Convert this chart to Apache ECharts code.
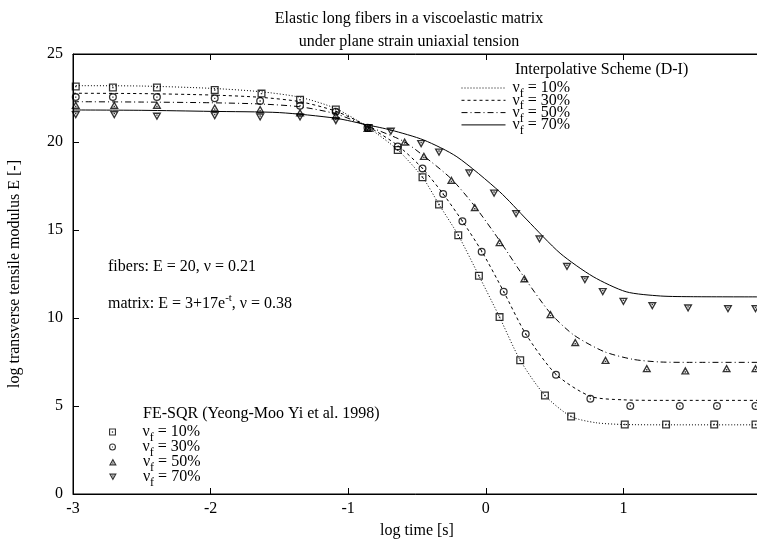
<!DOCTYPE html>
<html>
<head>
<meta charset="utf-8">
<title>Elastic long fibers in a viscoelastic matrix</title>
<script src="https://cdn.jsdelivr.net/npm/echarts@6/dist/echarts.min.js"></script>
<style>
  html, body { margin: 0; padding: 0; background: #fff; }
  #chart { width: 757px; height: 546px; }
</style>
</head>
<body>
<div id="chart"></div>
<script>
// fibre volume fractions
const fractions = ["10%", "30%", "50%", "70%"];

// Interpolative scheme (D-I): log time [s] / E [-]
const curveT10 = [-3, -2.5, -2, -1.64, -1.35, -1.09, -0.86, -0.64, -0.46, -0.34, -0.2, -0.05, 0.1, 0.25, 0.43, 0.62, 0.8, 1.0, 1.3, 2];
const curveE10 = [23.2, 23.18, 23.05, 22.86, 22.54, 21.9, 20.85, 19.55, 18.0, 16.45, 14.7, 12.4, 10.05, 7.6, 5.6, 4.4, 4.05, 3.95, 3.93, 3.93];
const curveT30 = [-3, -2.5, -2, -1.64, -1.35, -1.09, -0.86, -0.64, -0.46, -0.31, -0.17, -0.03, 0.13, 0.29, 0.51, 0.76, 1.0, 1.3, 2];
const curveE30 = [22.77, 22.75, 22.67, 22.54, 22.29, 21.75, 20.9, 19.8, 18.5, 17.05, 15.5, 13.8, 11.5, 9.1, 6.8, 5.55, 5.35, 5.32, 5.32];
const curveT50 = [-3, -2.5, -2, -1.64, -1.35, -1.09, -0.86, -0.6, -0.45, -0.25, -0.08, 0.1, 0.28, 0.47, 0.64, 0.86, 1.07, 1.27, 1.5, 2];
const curveE50 = [22.29, 22.27, 22.23, 22.16, 22.0, 21.6, 20.9, 20.05, 19.2, 17.9, 16.35, 14.4, 12.3, 10.27, 9.03, 8.09, 7.65, 7.5, 7.48, 7.48];
const curveT70 = [-3, -2.5, -2, -1.5, -1.09, -0.86, -0.69, -0.45, -0.21, 0.1, 0.3, 0.54, 0.78, 1.02, 1.27, 1.51, 2];
const curveE70 = [21.82, 21.8, 21.74, 21.67, 21.35, 20.97, 20.68, 20.11, 19.16, 17.18, 15.57, 13.68, 12.35, 11.49, 11.25, 11.21, 11.2];

// FE-SQR results (Yeong-Moo Yi et al. 1998)
const feT10 = [-2.98, -2.71, -2.39, -1.97, -1.63, -1.35, -1.09, -0.85, -0.64, -0.46, -0.34, -0.2, -0.05, 0.1, 0.25, 0.43, 0.62, 1.01, 1.31, 1.66, 1.96];
const feE10 = [23.15, 23.1, 23.1, 22.95, 22.75, 22.4, 21.85, 20.8, 19.55, 18.0, 16.45, 14.7, 12.4, 10.05, 7.6, 5.6, 4.4, 3.95, 3.95, 3.95, 3.95];
const feT30 = [-2.98, -2.71, -2.39, -1.97, -1.64, -1.35, -1.09, -0.86, -0.64, -0.46, -0.31, -0.17, -0.03, 0.13, 0.29, 0.51, 0.76, 1.05, 1.41, 1.68, 1.96];
const feE30 = [22.55, 22.55, 22.55, 22.48, 22.33, 22.06, 21.72, 20.81, 19.75, 18.5, 17.05, 15.5, 13.77, 11.49, 9.09, 6.78, 5.41, 5.0, 5.0, 5.0, 5.0];
const feT50 = [-2.98, -2.7, -2.39, -1.97, -1.64, -1.35, -1.09, -0.86, -0.59, -0.45, -0.25, -0.08, 0.1, 0.28, 0.47, 0.65, 0.87, 1.17, 1.45, 1.75, 1.96];
const feE50 = [22.1, 22.1, 22.1, 21.95, 21.86, 21.67, 21.5, 20.8, 20.02, 19.2, 17.84, 16.29, 14.3, 12.25, 10.21, 8.62, 7.61, 7.14, 7.01, 7.14, 7.14];
const feT70 = [-2.98, -2.7, -2.39, -1.97, -1.64, -1.35, -1.09, -0.86, -0.69, -0.47, -0.34, -0.12, 0.06, 0.22, 0.39, 0.59, 0.72, 0.85, 1.0, 1.21, 1.47, 1.76, 1.96];
const feE70 = [21.53, 21.53, 21.45, 21.48, 21.4, 21.4, 21.2, 20.8, 20.59, 19.89, 19.41, 18.22, 17.08, 15.91, 14.47, 12.91, 12.16, 11.48, 10.93, 10.68, 10.55, 10.51, 10.51];

const FONT = "Liberation Serif";

// hollow marker shapes with a centre dot
const SYM_SQUARE = "path://M0 0L10 0L10 10L0 10ZM1.6 1.6L1.6 8.4L8.4 8.4L8.4 1.6ZM4.1 4.1L5.9 4.1L5.9 5.9L4.1 5.9Z";
const SYM_CIRCLE = "path://M0 5A5 5 0 1 1 10 5A5 5 0 1 1 0 5ZM1.6 5A3.4 3.4 0 1 0 8.4 5A3.4 3.4 0 1 0 1.6 5ZM4.2 4.2L5.8 4.2L5.8 5.8L4.2 5.8Z";
const SYM_UP = "path://M5 0L10 9L0 9ZM5 3.1L2.6 7.4L7.4 7.4ZM4.2 5.3L5.8 5.3L5.8 6.8L4.2 6.8Z";
const SYM_DOWN = "path://M0 0L10 0L5 9ZM2.6 1.6L5 5.9L7.4 1.6ZM4.2 2.2L5.8 2.2L5.8 3.7L4.2 3.7Z";

function zip(xs, ys) {
  return xs.map((x, i) => [x, ys[i]]);
}

const curves = [
  { name: "D-I " + fractions[0], t: curveT10, e: curveE10, type: [1, 2] },
  { name: "D-I " + fractions[1], t: curveT30, e: curveE30, type: [3, 3] },
  { name: "D-I " + fractions[2], t: curveT50, e: curveE50, type: [6, 3, 1, 3] },
  { name: "D-I " + fractions[3], t: curveT70, e: curveE70, type: "solid" }
];
const points = [
  { name: "FE " + fractions[0], t: feT10, e: feE10, symbol: SYM_SQUARE, size: 8 },
  { name: "FE " + fractions[1], t: feT30, e: feE30, symbol: SYM_CIRCLE, size: 8 },
  { name: "FE " + fractions[2], t: feT50, e: feE50, symbol: SYM_UP, size: [9, 8] },
  { name: "FE " + fractions[3], t: feT70, e: feE70, symbol: SYM_DOWN, size: [9, 8] }
];

const series = [];
curves.forEach(c => {
  series.push({
    name: c.name,
    type: "line",
    data: zip(c.t, c.e),
    symbol: "none",
    smooth: 0.25,
    lineStyle: { color: "#000", width: 1, type: c.type },
    itemStyle: { color: "#000" },
    z: 2
  });
});
points.forEach(p => {
  series.push({
    name: p.name,
    type: "scatter",
    data: zip(p.t, p.e),
    symbol: p.symbol,
    symbolSize: p.size,
    itemStyle: { color: "#000" },
    z: 3
  });
});

// "ν_f = 10%" label with subscript
const legendRich = {
  v: { fontFamily: FONT, fontSize: 16, lineHeight: 16, verticalAlign: "top", color: "#000" },
  f: { fontFamily: FONT, fontSize: 12, lineHeight: 12, verticalAlign: "top", padding: [8, 0, 0, 0], color: "#000" },
  t: { fontFamily: FONT, fontSize: 16, lineHeight: 16, verticalAlign: "top", color: "#000" }
};
function vfLabel(name) {
  const pct = name.split(" ")[1];
  return "{v|ν}{f|f}{t| = " + pct + "}";
}

const legends = [];
curves.forEach((c, i) => {
  legends.push({
    data: [c.name],
    left: 461,
    top: 80 + i * 12.3,
    padding: 0,
    itemWidth: 44,
    itemHeight: 1,
    selectedMode: false,
    itemStyle: { opacity: 0 },
    lineStyle: { width: 1 },
    formatter: vfLabel,
    textStyle: { rich: legendRich, padding: [0, 0, 0, 2] }
  });
});
points.forEach((p, i) => {
  legends.push({
    data: [p.name],
    left: 109,
    top: 424 + i * 15,
    padding: 0,
    itemWidth: 8,
    itemHeight: 7,
    selectedMode: false,
    formatter: vfLabel,
    textStyle: { rich: legendRich, padding: [0, 0, 0, 21] }
  });
});

const chart = echarts.init(document.getElementById("chart"), null, { renderer: "canvas" });

chart.setOption({
  animation: false,
  backgroundColor: "#fff",
  title: {
    text: "Elastic long fibers in a viscoelastic matrix\nunder plane strain uniaxial tension",
    left: 404,
    top: 2,
    textAlign: "center",
    textStyle: { fontFamily: FONT, fontSize: 16, fontWeight: "normal", color: "#000", lineHeight: 23 }
  },
  grid: {
    left: 73,
    top: 54,
    width: 688,
    bottom: 52,
    show: true,
    borderColor: "#000",
    borderWidth: 1,
    containLabel: false,
    outerBoundsMode: "none"
  },
  legend: legends,
  xAxis: [
    {
      type: "value",
      min: -3,
      max: 2,
      interval: 1,
      name: "log time [s]",
      nameLocation: "middle",
      nameGap: 29,
      nameTextStyle: { fontFamily: FONT, fontSize: 16, color: "#000" },
      axisLine: { onZero: false, lineStyle: { color: "#000", width: 1 } },
      axisTick: { inside: true, length: 6, lineStyle: { color: "#000" } },
      axisLabel: { fontFamily: FONT, fontSize: 16, color: "#000", margin: 7, showMaxLabel: true, hideOverlap: false },
      splitLine: { show: false }
    },
    {
      type: "value",
      position: "top",
      min: -3,
      max: 2,
      interval: 1,
      axisLine: { onZero: false, lineStyle: { color: "#000", width: 1 } },
      axisTick: { inside: true, length: 6, lineStyle: { color: "#000" } },
      axisLabel: { show: false },
      splitLine: { show: false }
    }
  ],
  yAxis: {
    type: "value",
    min: 0,
    max: 25,
    interval: 5,
    name: "log transverse tensile modulus E [-]",
    nameLocation: "middle",
    nameGap: 50,
    nameRotate: 90,
    nameTextStyle: { fontFamily: FONT, fontSize: 16, color: "#000" },
    axisLine: { onZero: false, lineStyle: { color: "#000", width: 1 } },
    axisTick: { inside: true, length: 6, lineStyle: { color: "#000" } },
    axisLabel: { fontFamily: FONT, fontSize: 16, color: "#000", margin: 10 },
    splitLine: { show: false }
  },
  graphic: [
    {
      type: "text",
      left: 515,
      top: 62,
      style: { text: "Interpolative Scheme (D-I)", fontFamily: FONT, fontSize: 16, fill: "#000" }
    },
    {
      type: "text",
      left: 143,
      top: 406,
      style: { text: "FE-SQR (Yeong-Moo Yi et al. 1998)", fontFamily: FONT, fontSize: 16, fill: "#000" }
    },
    {
      type: "text",
      left: 108,
      top: 259,
      style: { text: "fibers: E = 20, ν = 0.21", fontFamily: FONT, fontSize: 16, fill: "#000" }
    },
    {
      type: "text",
      left: 108,
      top: 293,
      style: {
        text: "{a|matrix: E = 3+17e}{s|-t}{a|, ν = 0.38}",
        rich: {
          a: { fontFamily: FONT, fontSize: 16, lineHeight: 18, verticalAlign: "top", padding: [3, 0, 0, 0], fill: "#000" },
          s: { fontFamily: FONT, fontSize: 11, lineHeight: 11, verticalAlign: "top", fill: "#000" }
        }
      }
    }
  ],
  series: series
});
</script>
</body>
</html>
